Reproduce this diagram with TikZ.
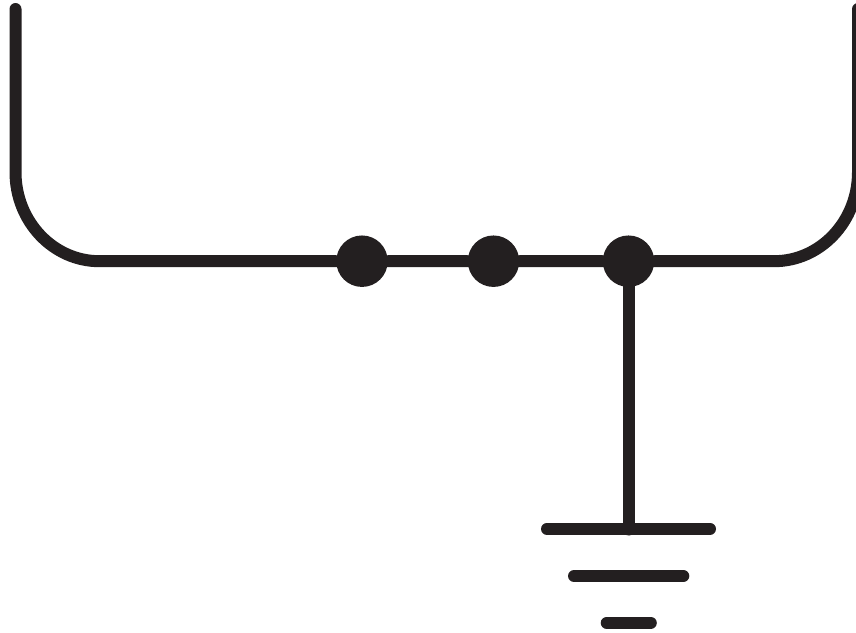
\documentclass[tikz,border=0pt]{standalone}
\definecolor{ink}{RGB}{35,31,32}
\tikzset{wire/.style={draw=ink,line width=9pt,line cap=round,line join=round},
 dotnode/.style={circle,fill=ink,inner sep=0pt,minimum size=38.6pt}}
\begin{document}
\begin{tikzpicture}[x=0.75pt,y=-0.75pt]
\useasboundingbox (0,0) rectangle (856,632);
\node[dotnode] (a) at (362,261.2) {};
\node[dotnode] (b) at (493.5,261.2) {};
\node[dotnode] (c) at (628.5,261.2) {};
\coordinate (l) at (15.5,9);
\coordinate (r) at (858,9);
\coordinate (g1) at (628.5,529.5);
\draw[wire] (l) -- (15.5,172.2) arc[start angle=180,end angle=270,x radius=84,y radius=-89] -- (a) -- (b) -- (c) -- (774,261.2) arc[start angle=270,end angle=360,x radius=84,y radius=-89] -- (r);
\draw[wire] (c) -- (g1);
\draw[wire] (547,528.8) -- (710,528.8);
\draw[wire] (574,576) -- (683.3,576);
\draw[wire] (606.7,622.8) -- (650.8,622.8);
\end{tikzpicture}
\end{document}
